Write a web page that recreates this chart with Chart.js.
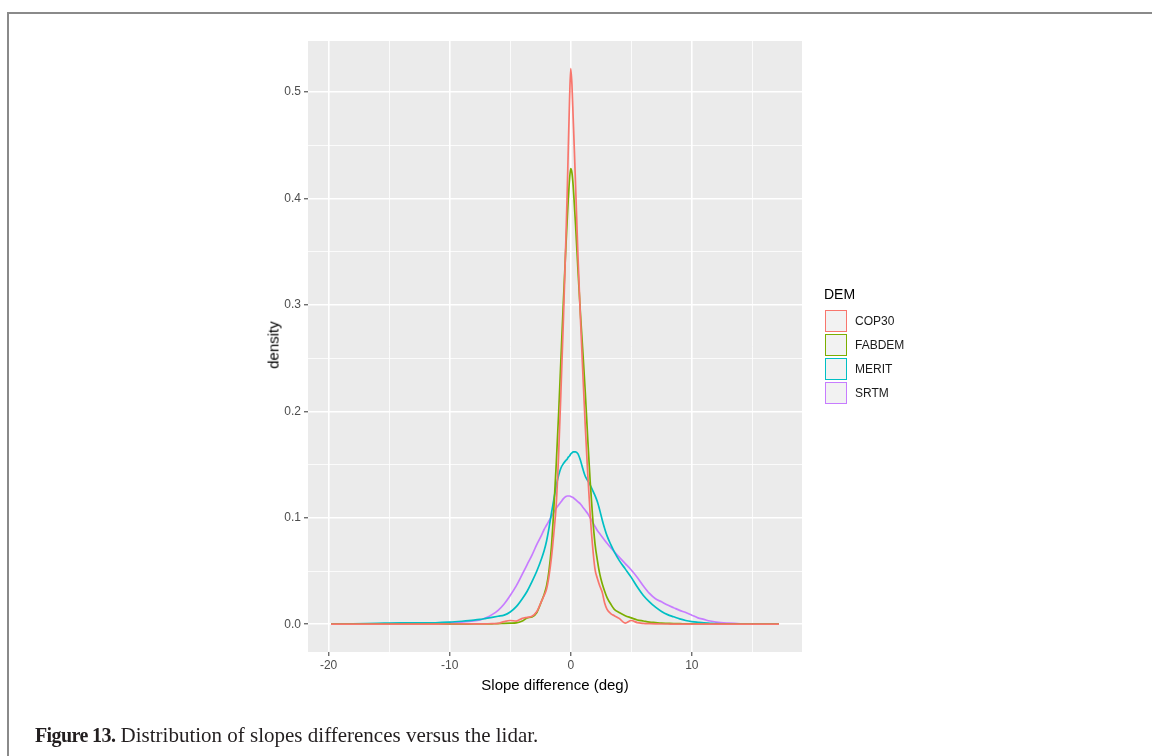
<!DOCTYPE html>
<html>
<head>
<meta charset="utf-8">
<script src="https://cdn.jsdelivr.net/npm/chart.js@4.4.1/dist/chart.umd.min.js"></script>
<style>
  html, body { margin:0; padding:0; background:#fff; }
  #wrap { position:relative; width:1152px; height:756px; overflow:hidden; }
  #c { position:absolute; left:0; top:0; }
  .t { position:absolute; font-family:"Liberation Sans", Arial, sans-serif; color:#000; white-space:nowrap; }
  #bt { position:absolute; left:7px; top:12px; width:1145px; height:2px; background:#8a8a8a; }
  #bl { position:absolute; left:7px; top:12px; width:2px; height:744px; background:#8a8a8a; }
  .key { position:absolute; background:#F2F2F2; border:1.5px solid; box-sizing:border-box; }
  #cap { position:absolute; left:35px; top:723px; font-family:"Liberation Serif", "Times New Roman", serif; font-size:21px; color:#231f20; white-space:nowrap; }
  #cap b { font-size:20px; letter-spacing:-0.6px; }
</style>
</head>
<body>
<div id="wrap">
  <div id="bt"></div><div id="bl"></div>
  <canvas id="c" width="1152" height="756"></canvas>
  <div class="t" id="ytitle" style="font-size:15px; left:273px; top:345px; transform:translate(-50%,-50%) rotate(-90deg);">density</div>
  <div class="t" id="xtitle" style="font-size:15px; left:555px; top:684px; transform:translate(-50%,-50%);">Slope difference (deg)</div>
  <div id="legend"></div>
  <div id="cap"><b>Figure 13.</b> Distribution of slopes differences versus the lidar.</div>
</div>
<script>
// ---- data ----
const xs = [-19.8,-18,-16,-14,-12,-10,-9,-8,-7.5,-7,
  -6.5,-6,-5.5,-5,-4.5,-4,-3.6,-3.2,-2.8,-2.4,
  -2.2,-2.0,-1.8,-1.6,-1.4,-1.2,-1.0,-0.8,-0.6,-0.4,
  -0.3,-0.2,-0.1,0,0.1,0.2,0.3,0.4,0.6,0.8,
  1.0,1.2,1.4,1.6,1.8,2.0,2.2,2.4,2.6,2.8,
  3.0,3.3,3.6,4.0,4.5,5.0,5.5,6.0,6.5,7.0,
  7.5,8.0,8.5,9.0,9.5,10,10.5,11,11.5,12,
  13,14,15,16,17.2];

const cop30 = [0,0,0,0,0,0.0002,0.0002,0.0003,0.0003,0.0004,
  0.0005,0.0008,0.0025,0.0035,0.003,0.0055,0.0065,0.0075,0.012,0.022,
  0.027,0.033,0.045,0.062,0.085,0.112,0.16,0.222,0.288,0.362,
  0.402,0.448,0.492,0.522,0.507,0.476,0.445,0.412,0.345,0.288,
  0.236,0.186,0.142,0.104,0.074,0.052,0.043,0.036,0.03,0.02,
  0.014,0.01,0.008,0.0055,0.001,0.0035,0.0015,0.0008,0.0005,0.0003,
  0.0002,0.0002,0.0001,0.0001,0,0,0,0,0,0,
  0,0,0,0,0];

const fabdem = [0,0,0,0,0,0.0001,0.0001,0.0002,0.0002,0.0003,
  0.0004,0.0005,0.0008,0.001,0.0012,0.003,0.006,0.0068,0.011,0.022,
  0.028,0.036,0.05,0.072,0.108,0.15,0.198,0.252,0.305,0.355,
  0.378,0.4,0.418,0.428,0.424,0.412,0.394,0.375,0.332,0.292,
  0.256,0.218,0.175,0.135,0.102,0.076,0.06,0.047,0.038,0.031,
  0.025,0.019,0.014,0.011,0.008,0.006,0.004,0.003,0.002,0.0015,
  0.001,0.0008,0.0006,0.0005,0.0004,0.0003,0.0002,0.0002,0.0001,0.0001,
  0,0,0,0,0];

const merit = [0,0.0003,0.0008,0.0012,0.0012,0.002,0.0028,0.0038,0.0045,0.0055,
  0.0065,0.0075,0.0085,0.0115,0.0165,0.024,0.031,0.04,0.05,0.062,
  0.069,0.078,0.09,0.104,0.117,0.13,0.14,0.147,0.151,0.154,
  0.155,0.157,0.158,0.16,0.161,0.162,0.162,0.162,0.16,0.154,
  0.146,0.139,0.135,0.131,0.126,0.121,0.115,0.107,0.098,0.09,
  0.083,0.075,0.068,0.06,0.052,0.044,0.035,0.027,0.021,0.016,
  0.012,0.009,0.007,0.005,0.0035,0.0025,0.0018,0.0012,0.0009,0.0006,
  0.0003,0.0002,0.0001,0,0];

const srtm = [0,0.0002,0.0004,0.0006,0.001,0.0015,0.002,0.003,0.004,0.006,
  0.009,0.013,0.019,0.027,0.036,0.047,0.056,0.065,0.075,0.084,
  0.089,0.093,0.097,0.101,0.105,0.109,0.112,0.115,0.118,0.12,
  0.1205,0.1205,0.1205,0.12,0.1195,0.119,0.118,0.117,0.115,0.113,
  0.11,0.107,0.104,0.1,0.096,0.092,0.088,0.085,0.082,0.079,
  0.076,0.072,0.068,0.063,0.057,0.051,0.044,0.036,0.029,0.024,
  0.021,0.018,0.0155,0.013,0.011,0.0085,0.006,0.0045,0.003,0.002,
  0.001,0.0004,0.0002,0.0001,0];

const seriesNames = ['COP30','FABDEM','MERIT','SRTM'];
const seriesValues = [cop30, fabdem, merit, srtm];
const seriesColors = ['#F8766D','#7CAE00','#00BFC4','#C77CFF'];
const xTicks = [-20,-15,-10,-5,0,5,10,15];
const xLabels = {'-20':'-20','-10':'-10','0':'0','10':'10'};
const yTicks = [0,0.05,0.1,0.15,0.2,0.25,0.3,0.35,0.4,0.45,0.5];
const yLabels = ['0.0','','0.1','','0.2','','0.3','','0.4','','0.5'];

// ---- legend (HTML) ----
const leg = document.getElementById('legend');
let html = '<div class="t" style="font-size:14px; left:824px; top:286px;">DEM</div>';
seriesNames.forEach((n,i)=>{
  const top = 310 + i*24;
  html += '<div class="key" style="left:825px; top:'+top+'px; width:22px; height:22px; border-color:'+seriesColors[i]+';"></div>';
  html += '<div class="t" style="font-size:12px; color:#1a1a1a; left:855px; top:'+(top+4)+'px;">'+n+'</div>';
});
leg.innerHTML = html;

// ---- chart ----
const isMajorY = v => Math.abs(v*10 - Math.round(v*10)) < 1e-6;
const isMajorX = v => Math.abs(v/10 - Math.round(v/10)) < 1e-6;

const panelBg = {
  id:'panelBg',
  beforeDraw(chart){
    const {ctx, chartArea:a} = chart;
    ctx.save();
    ctx.fillStyle = '#EBEBEB';
    ctx.fillRect(a.left, a.top, a.right-a.left, a.bottom-a.top);
    ctx.restore();
  }
};

new Chart(document.getElementById('c'), {
  type:'line',
  data:{
    datasets: seriesNames.map((n,i)=>({
      label:n,
      data: xs.map((x,j)=>({x:x, y:seriesValues[i][j]})),
      borderColor: seriesColors[i],
      borderWidth: 1.7,
      pointRadius: 0,
      fill:false,
      cubicInterpolationMode:'monotone'
    }))
  },
  options:{
    responsive:false,
    animation:false,
    events:[],
    layout:{padding:{left:268, right:350, top:41, bottom:74}},
    plugins:{legend:{display:false}, tooltip:{enabled:false}},
    scales:{
      x:{
        type:'linear', min:-21.7, max:19.1,
        afterBuildTicks: s => { s.ticks = xTicks.map(v=>({value:v})); },
        afterFit: s => { s.height = 30; },
        border:{display:false},
        grid:{
          color:'#ffffff',
          lineWidth: c => (c.tick && isMajorX(c.tick.value)) ? 1.6 : 0.8,
          tickLength:4, tickWidth:1,
          tickColor: c => (c.tick && isMajorX(c.tick.value)) ? '#333333' : 'rgba(0,0,0,0)'
        },
        ticks:{
          autoSkip:false, maxRotation:0, padding:2,
          color:'#4D4D4D', font:{family:'Liberation Sans', size:12},
          callback: v => (xLabels[String(v)] !== undefined ? xLabels[String(v)] : '')
        }
      },
      y:{
        type:'linear', min:-0.0261, max:0.548,
        afterBuildTicks: s => { s.ticks = yTicks.map(v=>({value:v})); },
        afterFit: s => { s.width = 40; },
        border:{display:false},
        grid:{
          color:'#ffffff',
          lineWidth: c => (c.tick && isMajorY(c.tick.value)) ? 1.6 : 0.8,
          tickLength:4, tickWidth:1,
          tickColor: c => (c.tick && isMajorY(c.tick.value)) ? '#333333' : 'rgba(0,0,0,0)'
        },
        ticks:{
          autoSkip:false, padding:3,
          color:'#4D4D4D', font:{family:'Liberation Sans', size:12},
          callback: (v, idx) => { const k = yTicks.findIndex(t=>Math.abs(t-v)<1e-9); return k>=0 ? yLabels[k] : ''; }
        }
      }
    }
  },
  plugins:[panelBg]
});
</script>
</body>
</html>
